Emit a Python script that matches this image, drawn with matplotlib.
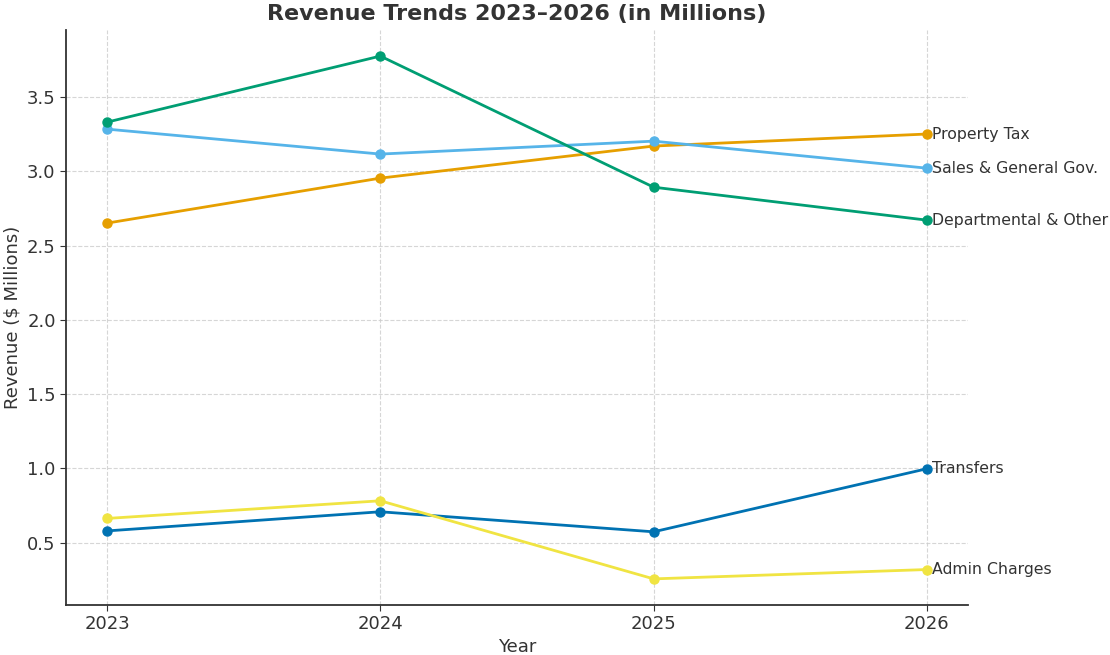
import matplotlib
matplotlib.use("Agg")
import matplotlib.pyplot as plt

years = [2023, 2024, 2025, 2026]
series_names = ["Property Tax", "Sales & General Gov.", "Departmental & Other", "Transfers", "Admin Charges"]
property_tax = [2.651, 2.954, 3.170, 3.251]
sales_general = [3.284, 3.116, 3.203, 3.021]
departmental = [3.331, 3.776, 2.893, 2.671]
transfers = [0.578, 0.707, 0.572, 0.997]
admin_charges = [0.662, 0.781, 0.255, 0.318]
colors = ["#E69F00", "#56B4E9", "#009E73", "#0072B2", "#F0E442"]

values = [property_tax, sales_general, departmental, transfers, admin_charges]

text_color = "#333333"
plt.rcParams['font.family'] = ['DejaVu Sans']

fig = plt.figure(figsize=(11.1, 6.55), dpi=100)
ax = fig.add_axes([0.0595, 0.0763, 0.8125, 0.878])

for name, vals, c in zip(series_names, values, colors):
    ax.plot(years, vals, marker='o', color=c, lw=2, markersize=6.5, label=name)
    ax.annotate(name, xy=(years[-1], vals[-1]), xytext=(4, 0), textcoords='offset points',
                va='center', ha='left', fontsize=11.3, color=text_color)

ax.set_xticks(years)
ax.set_xticklabels([str(y) for y in years])
ax.grid(True, linestyle='--', color='#cccccc', lw=0.8, alpha=0.8)
ax.set_axisbelow(True)
for s in ['top', 'right']:
    ax.spines[s].set_visible(False)
for s in ['left', 'bottom']:
    ax.spines[s].set_color(text_color)
    ax.spines[s].set_linewidth(1.3)
ax.tick_params(axis='both', labelsize=13, colors=text_color, length=4)
ax.set_xlabel("Year", fontsize=13, color=text_color, labelpad=3)
ax.set_ylabel("Revenue ($ Millions)", fontsize=13, color=text_color)
ax.set_title("Revenue Trends 2023–2026 (in Millions)", fontsize=16, fontweight='bold', color=text_color, pad=7)

fig.savefig("out.png", dpi=100)
